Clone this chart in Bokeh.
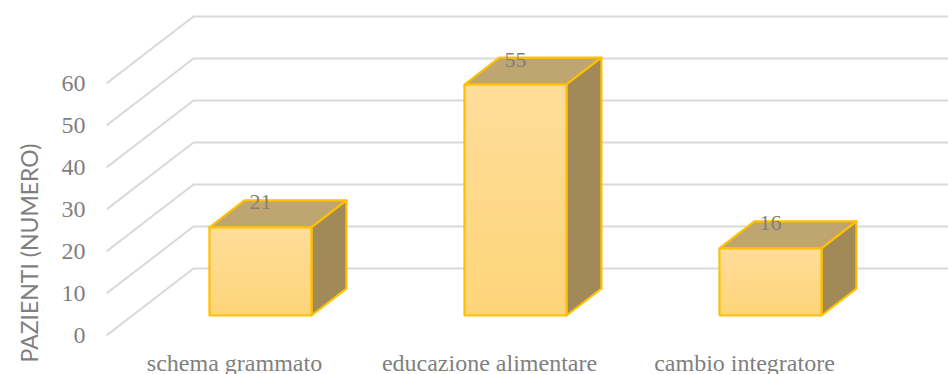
from bokeh.embed import file_html
from bokeh.models import FixedTicker, LinearAxis, Range1d, Title
from bokeh.plotting import figure
from bokeh.resources import INLINE

# Chart data
categories = ["schema grammato", "educazione alimentare", "cambio integratore"]
values = [21, 55, 16]
y_ticks = [0, 10, 20, 30, 40, 50, 60]
y_title = "PAZIENTI (NUMERO)"

# Oblique projection: how far the full floor depth shifts a point, in data units
DEPTH_X = 87 / 255
DEPTH_Y = 67 / 4.2
BAR_HALF = 0.2
BAR_FRONT = 0.2985
BAR_BACK = 0.70

X_START = -128 / 255
X_END = 714 / 255

GOLD = "#FFC000"
GRID = "#D9D9D9"
TEXT = "#7F7F7F"
SERIF = "Liberation Serif"


def project(x, value, depth):
    return x + depth * DEPTH_X, value + depth * DEPTH_Y


def mix(a, b, t):
    return "#%02X%02X%02X" % tuple(round(p + (q - p) * t) for p, q in zip(a, b))


p = figure(
    width=948, height=374, frame_width=842, frame_height=337,
    min_border_left=106, min_border_right=0, min_border_top=0, min_border_bottom=37,
    x_range=Range1d(X_START, X_END), y_range=Range1d(-2 / 4.2, 335 / 4.2),
    output_backend="svg", toolbar_location=None, x_axis_location=None, y_axis_location=None,
)
p.outline_line_color = None
p.grid.visible = False
p.background_fill_color = "white"
p.border_fill_color = "white"

# Floor-and-wall grid lines
for tick in y_ticks:
    bx, by = project(X_START, tick, 1)
    p.line([X_START, bx, X_END], [tick, by, by], line_color=GRID, line_width=2)

# Boxes: side and top faces, then a banded front face for its soft vertical gradient
BANDS = 24
for i, v in enumerate(values):
    l, r = i - BAR_HALF, i + BAR_HALF
    corner = {
        "fl": project(l, 0, BAR_FRONT), "fr": project(r, 0, BAR_FRONT),
        "tl": project(l, v, BAR_FRONT), "tr": project(r, v, BAR_FRONT),
        "bl": project(l, v, BAR_BACK), "br": project(r, v, BAR_BACK),
        "dr": project(r, 0, BAR_BACK),
    }
    top = [corner[k] for k in ("tl", "tr", "br", "bl")]
    p.patch(*zip(*top), fill_color="#BFA570", line_color=GOLD, line_width=2.2, line_join="round")
    side = [corner[k] for k in ("fr", "tr", "br", "dr")]
    p.patch(*zip(*side), fill_color="#A28A58", line_color=GOLD, line_width=2.2, line_join="round")
    x0, y0 = corner["fl"]
    x1, y1 = corner["tr"]
    for b in range(BANDS):
        t = b / BANDS
        p.quad(left=x0, right=x1, bottom=y0, top=y1 + (y0 - y1) * t,
               fill_color=mix((254, 221, 153), (253, 212, 120), t), line_color=None)
    p.quad(left=x0, right=x1, bottom=y0, top=y1, fill_color=None, line_color=GOLD, line_width=2.2)
    lx, ly = project(i, v, BAR_BACK)
    p.text([x0 + (x1 - x0) / 2], [ly], text=[str(v)], text_color=TEXT, text_align="center",
           text_baseline="middle", text_font_size="22px", text_font={"value": SERIF}, y_offset=2)

# Value axis, drawn without line or ticks
y_axis = LinearAxis(ticker=FixedTicker(ticks=y_ticks), axis_line_color=None,
                    major_tick_line_color=None, minor_tick_line_color=None,
                    major_label_standoff=15, major_label_text_color=TEXT,
                    major_label_text_font=SERIF, major_label_text_font_size="24px")
p.add_layout(y_axis, "left")

# Category axis
x_axis = LinearAxis(ticker=FixedTicker(ticks=list(range(len(categories)))),
                    major_label_overrides={i: c for i, c in enumerate(categories)},
                    axis_line_color=None, major_tick_line_color=None, minor_tick_line_color=None,
                    major_label_standoff=6, major_label_text_color=TEXT,
                    major_label_text_font=SERIF, major_label_text_font_size="24px")
p.add_layout(x_axis, "below")

# Rotated title beside the value axis, starting below the plot floor
p.add_layout(Title(text=y_title, align="left", vertical_align="top", offset=-25, standoff=28,
                   text_color=TEXT, text_font="Lato", text_font_size="23px",
                   text_font_style="normal", text_line_height=0.6), "left")

open("out.html", "w").write(file_html(p, INLINE))
